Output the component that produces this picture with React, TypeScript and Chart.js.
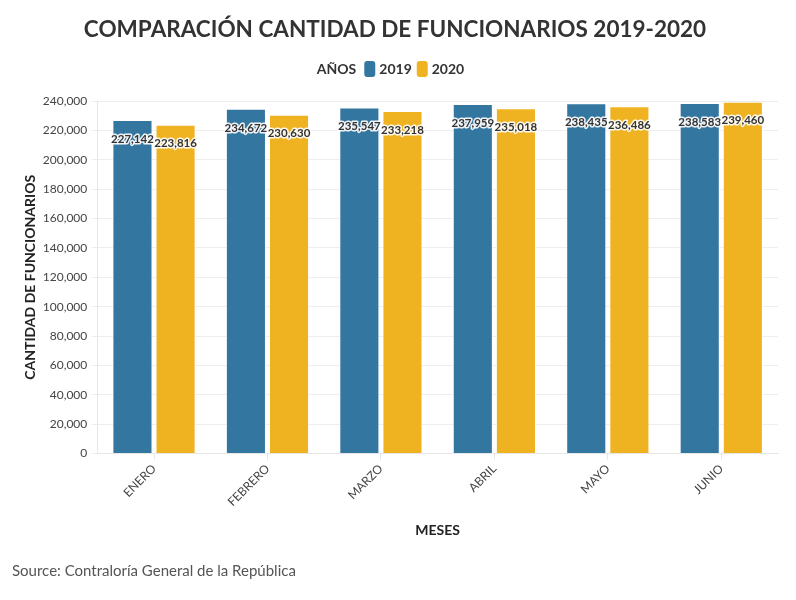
import React, { useEffect, useRef } from 'react';
import { Chart, registerables } from 'chart.js';

Chart.register(...registerables);

const months = ['ENERO', 'FEBRERO', 'MARZO', 'ABRIL', 'MAYO', 'JUNIO'];
const values2019 = [227142, 234672, 235547, 237959, 238435, 238583];
const values2020 = [223816, 230630, 233218, 235018, 236486, 239460];
const seriesNames = ['2019', '2020'];
const seriesColors = ['#33769f', '#efb321'];
const legendTitle = 'AÑOS';

const FONT = 'Lato, "Noto Sans", sans-serif';

// values drawn on top of each bar, white halo like the original
const barLabels = {
  id: 'barLabels',
  afterDatasetsDraw(chart: Chart) {
    const ctx = chart.ctx;
    ctx.save();
    ctx.font = `bold 11.5px ${FONT}`;
    ctx.textAlign = 'center';
    ctx.textBaseline = 'middle';
    ctx.lineJoin = 'round';
    chart.data.datasets.forEach((ds, i) => {
      const meta = chart.getDatasetMeta(i);
      meta.data.forEach((bar: any, j) => {
        const text = (ds.data[j] as number).toLocaleString('en-US');
        const y = bar.y + 19;
        ctx.strokeStyle = 'rgba(255,255,255,0.9)';
        ctx.lineWidth = 3;
        ctx.strokeText(text, bar.x, y);
        ctx.fillStyle = '#333333';
        ctx.fillText(text, bar.x, y);
      });
    });
    ctx.restore();
  },
};

// inline legend "AÑOS [] 2019 [] 2020" under the title
const inlineLegend = {
  id: 'inlineLegend',
  afterDraw(chart: Chart) {
    const ctx = chart.ctx;
    ctx.save();
    ctx.font = `bold 14px ${FONT}`;
    ctx.textBaseline = 'middle';
    ctx.textAlign = 'left';
    const boxW = 11;
    const boxH = 16;
    const y = 69;
    let total = ctx.measureText(legendTitle).width;
    seriesNames.forEach((n) => {
      total += 8 + boxW + 4 + ctx.measureText(n).width;
    });
    let x = 392 - total / 2;
    ctx.fillStyle = '#333333';
    ctx.fillText(legendTitle, x, y);
    x += ctx.measureText(legendTitle).width;
    seriesNames.forEach((n, i) => {
      x += i === 0 ? 8 : 5;
      ctx.fillStyle = seriesColors[i];
      ctx.beginPath();
      (ctx as any).roundRect(x, y - boxH / 2, boxW, boxH, 3);
      ctx.fill();
      x += boxW + 4;
      ctx.fillStyle = '#333333';
      ctx.fillText(n, x, y);
      x += ctx.measureText(n).width;
    });
    ctx.restore();
  },
};

const App: React.FC = () => {
  const chartRef = useRef<HTMLCanvasElement>(null);

  useEffect(() => {
    document.body.style.margin = '0';
    if (!chartRef.current) return;
    const chartInstance = new Chart(chartRef.current, {
      type: 'bar',
      data: {
        labels: months,
        datasets: [
          {
            label: seriesNames[0],
            data: values2019,
            backgroundColor: seriesColors[0],
            borderColor: 'rgba(255,255,255,0.6)',
            borderWidth: 1,
            categoryPercentage: 0.76,
            barPercentage: 0.93,
          },
          {
            label: seriesNames[1],
            data: values2020,
            backgroundColor: seriesColors[1],
            borderColor: 'rgba(255,255,255,0.6)',
            borderWidth: 1,
            categoryPercentage: 0.76,
            barPercentage: 0.93,
          },
        ],
      },
      options: {
        responsive: true,
        maintainAspectRatio: false,
        animation: false,
        layout: { padding: { left: 12, right: 18, top: 0, bottom: 6 } },
        plugins: {
          title: {
            display: true,
            text: 'COMPARACIÓN CANTIDAD DE FUNCIONARIOS 2019-2020',
            color: '#333333',
            font: { family: FONT, size: 22.5, weight: 'bold' },
            padding: { top: 16, bottom: 58 },
          },
          subtitle: {
            display: true,
            position: 'bottom',
            align: 'start',
            text: 'Source: Contraloría General de la República',
            color: '#555555',
            font: { family: FONT, size: 15 },
            padding: { top: 23, bottom: 14 },
          },
          legend: { display: false },
          tooltip: { enabled: false },
        },
        scales: {
          x: {
            grid: {
              display: true,
              drawOnChartArea: false,
              offset: false,
              color: '#e6e6e6',
              tickLength: 6,
            },
            border: { display: true, color: '#e6e6e6' },
            ticks: {
              color: '#444444',
              font: { family: FONT, size: 12 },
              minRotation: 45,
              maxRotation: 45,
              padding: 2,
            },
            title: {
              display: true,
              text: 'MESES',
              color: '#222222',
              font: { family: FONT, size: 14, weight: 'bold' },
              padding: { top: 11, bottom: 0 },
            },
          },
          y: {
            min: 0,
            max: 240000,
            grid: {
              color: '#eeeeee',
              tickLength: 6,
            },
            border: { display: true, color: '#e6e6e6' },
            ticks: {
              stepSize: 20000,
              color: '#444444',
              font: { family: FONT, size: 12 },
              padding: 4,
              callback: (v: any) => Number(v).toLocaleString('en-US'),
            },
            title: {
              display: true,
              text: 'CANTIDAD DE FUNCIONARIOS',
              color: '#222222',
              font: { family: FONT, size: 14, weight: 'bold' },
              padding: { top: 10, bottom: 0 },
            },
          },
        },
      },
      plugins: [barLabels, inlineLegend],
    });

    return () => {
      chartInstance.destroy();
    };
  }, []);

  return (
    <div style={{ width: '796px', height: '600px', position: 'relative', background: '#fff' }}>
      <canvas ref={chartRef} />
    </div>
  );
};

export default App;
